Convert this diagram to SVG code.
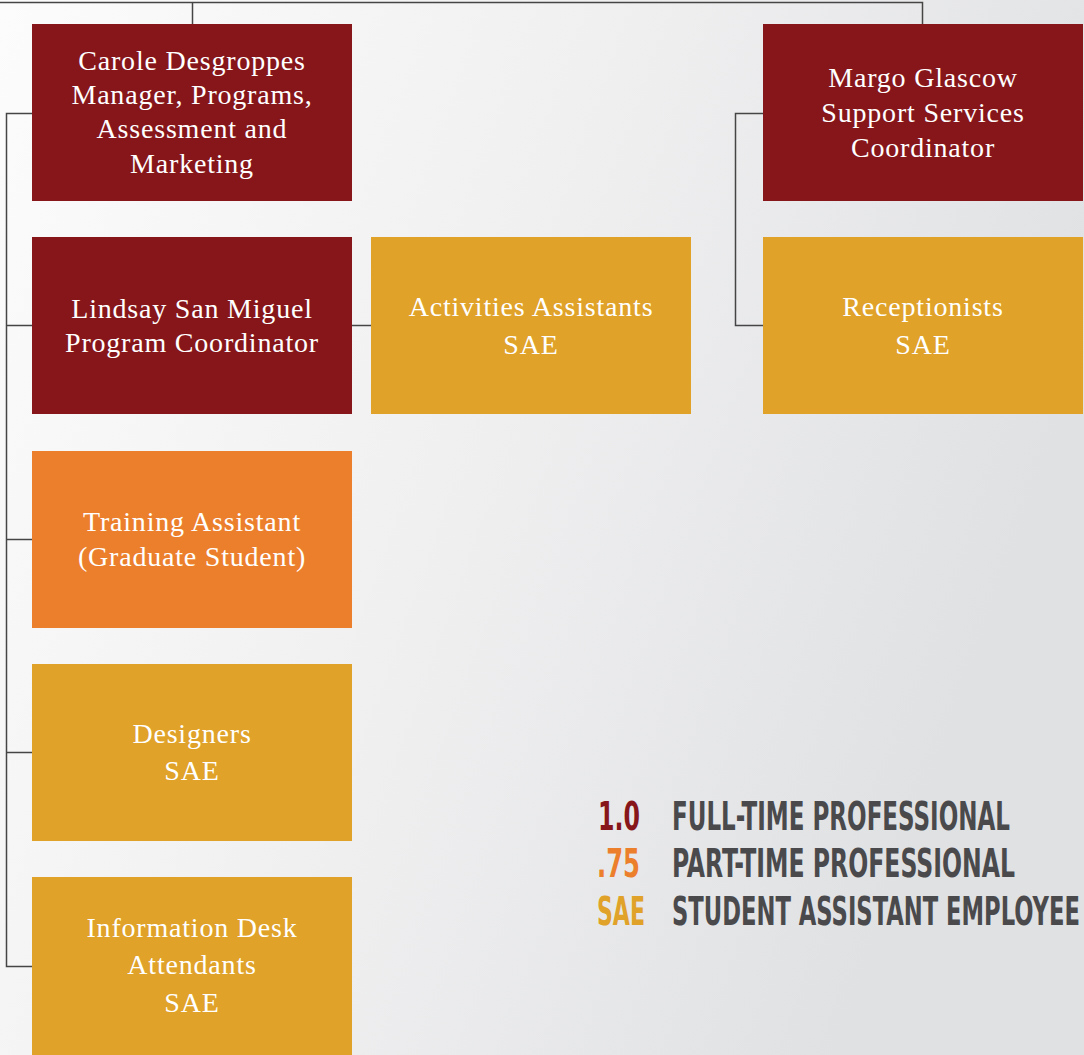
<svg xmlns="http://www.w3.org/2000/svg" width="1084" height="1055" viewBox="0 0 1084 1055">
<defs>
<linearGradient id="bg" x1="0" y1="0" x2="1" y2="0.35">
<stop offset="0" stop-color="#fcfcfc"/>
<stop offset="0.5" stop-color="#f0f0f1"/>
<stop offset="1" stop-color="#e0e1e3"/>
</linearGradient>
<style>
.red{fill:#86161a}
.orange{fill:#ec7f2c}
.gold{fill:#e0a228}
.t{font-family:"Liberation Serif","DejaVu Serif",serif;font-size:28px;letter-spacing:0.8px;fill:#ffffff;text-anchor:middle}
.conn{fill:none;stroke:#454545;stroke-width:1.5}
.lg{font-family:"DejaVu Sans Condensed","DejaVu Sans",sans-serif;font-weight:bold;font-size:24px}
.lab{fill:#4a4a4c}
</style>
</defs>
<rect width="1084" height="1055" fill="url(#bg)"/>
<g id="connectors">
<path class="conn" d="M0 2.5 H922.5 V24 M192.5 2.5 V24"/>
<path class="conn" d="M32 113.5 H6.5 V966.5 H32 M6.5 325.5 H32 M6.5 539.5 H32 M6.5 752.5 H32"/>
<path class="conn" d="M352 325.5 H371"/>
<path class="conn" d="M763 113.5 H735.5 V325.5 H763"/>
</g>
<g id="carole">
<rect class="red" x="32" y="24" width="320" height="177"/>
<text class="t"><tspan x="192" y="70">Carole Desgroppes</tspan><tspan x="192" y="104">Manager, Programs,</tspan><tspan x="192" y="138">Assessment and</tspan><tspan x="192" y="173">Marketing</tspan></text>
</g>
<g id="margo">
<rect class="red" x="763" y="24" width="320" height="177"/>
<text class="t"><tspan x="923" y="87">Margo Glascow</tspan><tspan x="923" y="122">Support Services</tspan><tspan x="923" y="157">Coordinator</tspan></text>
</g>
<g id="lindsay">
<rect class="red" x="32" y="237" width="320" height="177"/>
<text class="t"><tspan x="192" y="318">Lindsay San Miguel</tspan><tspan x="192" y="352">Program Coordinator</tspan></text>
</g>
<g id="activities">
<rect class="gold" x="371" y="237" width="320" height="177"/>
<text class="t"><tspan x="531" y="316">Activities Assistants</tspan><tspan x="531" y="354">SAE</tspan></text>
</g>
<g id="receptionists">
<rect class="gold" x="763" y="237" width="320" height="177"/>
<text class="t"><tspan x="923" y="316">Receptionists</tspan><tspan x="923" y="354">SAE</tspan></text>
</g>
<g id="training">
<rect class="orange" x="32" y="451" width="320" height="177"/>
<text class="t"><tspan x="192" y="531">Training Assistant</tspan><tspan x="192" y="566">(Graduate Student)</tspan></text>
</g>
<g id="designers">
<rect class="gold" x="32" y="664" width="320" height="177"/>
<text class="t"><tspan x="192" y="743">Designers</tspan><tspan x="192" y="780">SAE</tspan></text>
</g>
<g id="infodesk">
<rect class="gold" x="32" y="877" width="320" height="178"/>
<text class="t"><tspan x="192" y="937">Information Desk</tspan><tspan x="192" y="974">Attendants</tspan><tspan x="192" y="1012">SAE</tspan></text>
</g>
<g id="legend" transform="scale(1 1.6)">
<text class="lg" x="598" y="518.75" fill="#86161a" textLength="42" lengthAdjust="spacingAndGlyphs">1.0</text>
<text class="lg lab" x="672" y="518.75" textLength="338" lengthAdjust="spacingAndGlyphs">FULL-TIME PROFESSIONAL</text>
<text class="lg" x="597" y="548.1" fill="#ec7f2c" textLength="43" lengthAdjust="spacingAndGlyphs">.75</text>
<text class="lg lab" x="672" y="548.1" textLength="343" lengthAdjust="spacingAndGlyphs">PART-TIME PROFESSIONAL</text>
<text class="lg" x="597" y="578.1" fill="#e0a228" textLength="48" lengthAdjust="spacingAndGlyphs">SAE</text>
<text class="lg lab" x="672" y="578.1" textLength="408" lengthAdjust="spacingAndGlyphs">STUDENT ASSISTANT EMPLOYEE</text>
</g>
</svg>
